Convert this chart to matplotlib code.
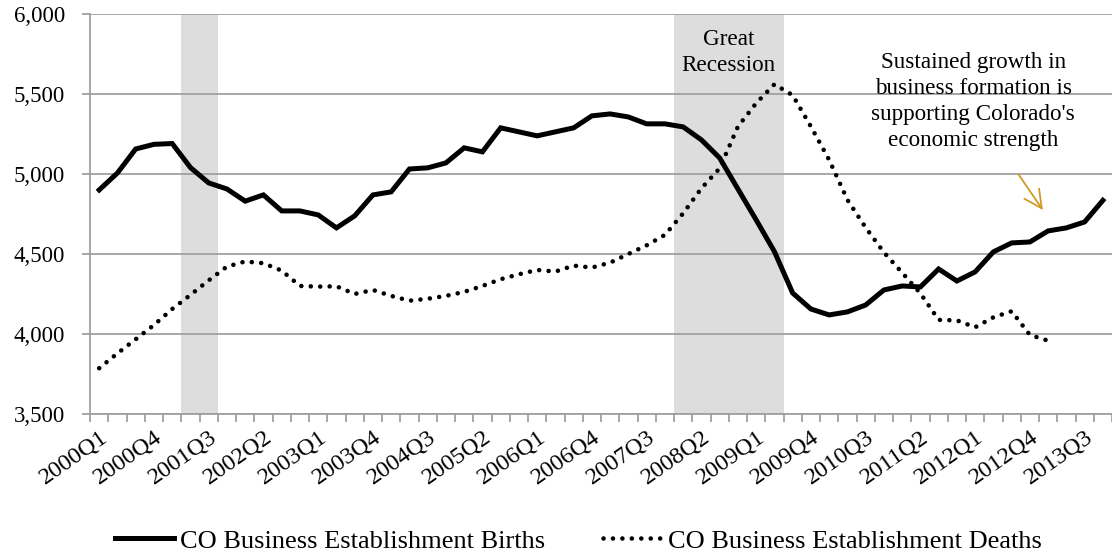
import numpy as np
import matplotlib.pyplot as plt
import matplotlib.transforms as mtransforms

plt.rcParams['font.family'] = ['Liberation Serif', 'DejaVu Serif']

# quarters 2000Q1 .. 2013Q4
quarters = [f"{y}Q{q}" for y in range(2000, 2014) for q in range(1, 5)]

births = [4900, 5006, 5156, 5185, 5190, 5040, 4944, 4906, 4830, 4869,
          4769, 4769, 4744, 4663, 4738, 4869, 4888, 5031, 5038, 5069,
          5163, 5138, 5288, 5263, 5238, 5263, 5288, 5363, 5375, 5356,
          5313, 5313, 5294, 5213, 5100, 4906, 4713, 4515, 4256, 4156,
          4119, 4138, 4181, 4275, 4300, 4294, 4406, 4331, 4388, 4513,
          4569, 4575, 4644, 4663, 4700, 4835]

deaths = [3786, 3879, 3967, 4056, 4156, 4244, 4335, 4421, 4453, 4442,
          4396, 4300, 4296, 4298, 4250, 4275, 4238, 4208, 4220, 4238,
          4263, 4300, 4342, 4373, 4400, 4390, 4427, 4415, 4446, 4500,
          4554, 4619, 4754, 4910, 5035, 5296, 5442, 5560, 5492, 5296,
          5088, 4838, 4665, 4510, 4383, 4254, 4088, 4085, 4042, 4104,
          4142, 3994, 3958]

# recession quarters
recession1 = ["2001Q2", "2001Q3"]
recession2 = ["2008Q1", "2008Q2", "2008Q3", "2008Q4", "2009Q1", "2009Q2"]

fig = plt.figure(figsize=(11.12, 5.56), dpi=100)
ax = fig.add_axes([0.081, 0.2554, 0.919, 0.7196])

for q in recession1 + recession2:
    i = quarters.index(q)
    ax.axvspan(i - 0.5, i + 0.5, color='#DDDDDD', lw=0, zorder=0)

x = np.arange(len(quarters))
ax.plot(x, births, color='black', lw=3.6, solid_joinstyle='miter',
        label='CO Business Establishment Births', zorder=3)
ax.plot(x[:len(deaths)], deaths, color='black', lw=3.3,
        linestyle=(0, (0.01, 2.05)), dash_capstyle='round',
        label='CO Business Establishment Deaths', zorder=3)

ax.set_xlim(-0.5, len(quarters) - 0.5)
ax.set_ylim(3500, 6000)
ax.set_yticks(np.arange(3500, 6001, 500))
ax.set_yticklabels([f"{v:,}" for v in range(3500, 6001, 500)], fontsize=16.5)
ax.yaxis.grid(True, color='#A0A0A0', lw=1.3, zorder=1)

ax.set_xticks(np.arange(-0.5, len(quarters), 1), minor=True)
ax.set_xticks(x[::3])
ax.set_xticklabels(quarters[::3], rotation=35, ha='right',
                   rotation_mode='anchor', fontsize=17.5)
shift = mtransforms.ScaledTranslation(-6 / 100, 0, fig.dpi_scale_trans)
for lab in ax.get_xticklabels():
    lab.set_transform(lab.get_transform() + shift)
ax.tick_params(axis='x', which='major', length=0, pad=9)
ax.tick_params(axis='x', which='minor', length=6, color='#A0A0A0', width=1.3)
ax.tick_params(axis='y', length=6, color='#A0A0A0', width=1.3, pad=12)

for s in ['top', 'right']:
    ax.spines[s].set_visible(False)
for s in ['left', 'bottom']:
    ax.spines[s].set_color('#A0A0A0')
    ax.spines[s].set_linewidth(1.3)

ax.text(34.5, 5905, "Great\nRecession",
        ha='center', va='top', fontsize=16.7, linespacing=1.3)
ax.text(47.9, 5760, "Sustained growth in\nbusiness formation is\nsupporting Colorado's\neconomic strength",
        ha='center', va='top', fontsize=16.7, linespacing=1.3)
ax.annotate("", xy=(51.8, 4760), xytext=(50.3, 5010),
            arrowprops=dict(arrowstyle='->', color='#D09A25', lw=1.3,
                            mutation_scale=32))

fig.legend(loc='center', ncol=2, frameon=False, fontsize=19,
           bbox_to_anchor=(0.52, 0.027), handlelength=2.25,
           columnspacing=2.2, handletextpad=0.2)

fig.savefig('out.png', dpi=100)
